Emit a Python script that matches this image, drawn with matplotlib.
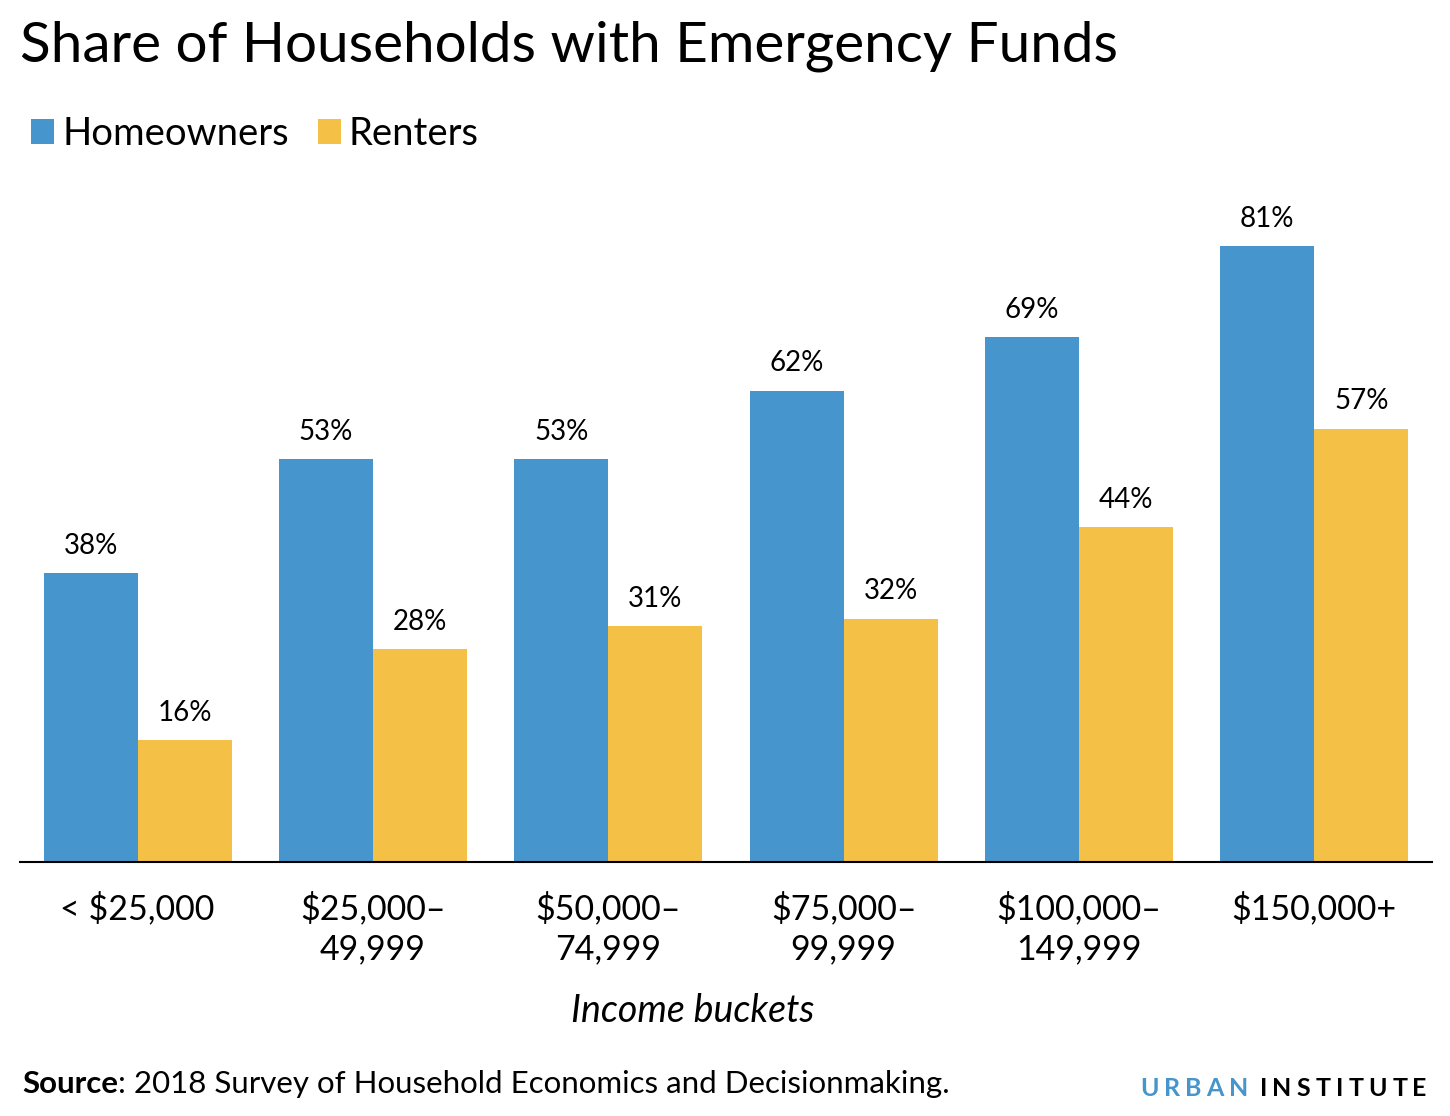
import numpy as np
import matplotlib
matplotlib.use("Agg")
import matplotlib.pyplot as plt

plt.rcParams['font.family'] = ['Lato', 'DejaVu Sans']

categories = ['< $25,000', '$25,000–\n49,999', '$50,000–\n74,999',
              '$75,000–\n99,999', '$100,000–\n149,999', '$150,000+']
homeowners = [38, 53, 53, 62, 69, 81]
renters = [16, 28, 31, 32, 44, 57]

blue = '#4696cd'
yellow = '#f4c045'

fig = plt.figure(figsize=(14.5, 11.16), dpi=100)
ax = fig.add_axes([20/1450, 1-862/1116, 1412/1450, (862-177.6)/1116])

x = np.arange(len(categories))
w = 0.4
b1 = ax.bar(x - w/2, homeowners, w, color=blue, label='Homeowners')
b2 = ax.bar(x + w/2, renters, w, color=yellow, label='Renters')

for bars, vals in [(b1, homeowners), (b2, renters)]:
    for r, v in zip(bars, vals):
        ax.annotate(f'{v}%', (r.get_x() + r.get_width()/2, v),
                    xytext=(0, 14), textcoords='offset points',
                    ha='center', va='baseline', fontsize=20)

ax.set_xlim(-0.5, len(categories) - 0.5)
ax.set_ylim(0, 90)
ax.set_xticks(x)
ax.set_xticklabels(categories, fontsize=24.5, linespacing=1.32)
ax.tick_params(axis='x', length=0, pad=21)
ax.set_yticks([])
for s in ['top', 'left', 'right']:
    ax.spines[s].set_visible(False)
ax.spines['bottom'].set_linewidth(1.5)
ax.spines['bottom'].set_color('black')

fig.text(693/1450, 1-1011/1116, 'Income buckets', fontsize=27, style='italic',
         ha='center', va='center')

fig.text(20/1450, 1-46/1116, 'Share of Households with Emergency Funds',
         fontsize=40.8, ha='left', va='center')

fig.legend(handles=[b1, b2], loc='center left', bbox_to_anchor=(31/1450, 1-134/1116),
           ncol=2, frameon=False, fontsize=27.5, handlelength=0.6, handleheight=0.6,
           handletextpad=0.22, columnspacing=0.75, borderaxespad=0, borderpad=0)

t1 = fig.text(22/1450, 1-1084/1116, 'Source', fontsize=22.5, fontweight='bold',
              ha='left', va='center')
fig.canvas.draw()
renderer = fig.canvas.get_renderer()
bb = t1.get_window_extent(renderer)
fig.text(bb.x1/1450, 1-1084/1116, ': 2018 Survey of Household Economics and Decisionmaking.',
         fontsize=22.5, ha='left', va='center')

# logo with letter spacing
xpos = 1140
ylogo = 1-1088/1116
track = 5.2
for word, col in [('URBAN', blue), ('INSTITUTE', 'black')]:
    for ch in word:
        t = fig.text(xpos/1450, ylogo, ch, fontsize=18, fontweight='bold',
                     color=col, ha='left', va='center')
        e = t.get_window_extent(renderer)
        xpos += e.width + track
    xpos += 6

fig.savefig('out.png', dpi=100)
